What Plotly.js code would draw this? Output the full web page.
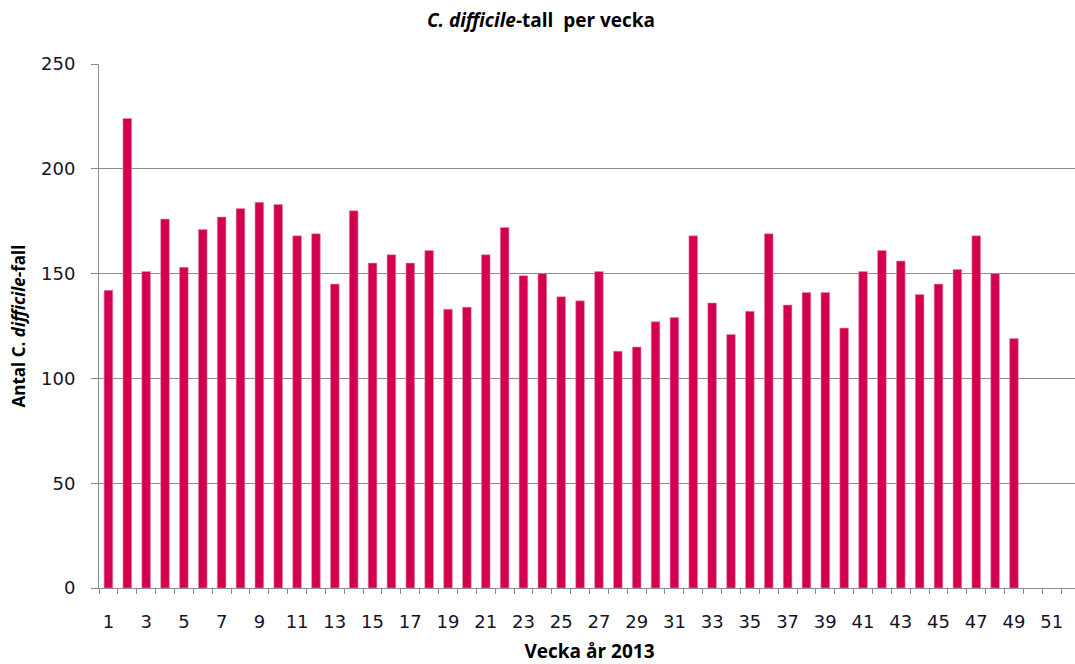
<!DOCTYPE html>
<html>
<head>
<meta charset="utf-8">
<script src="https://cdn.plot.ly/plotly-3.0.1.min.js"></script>
<style>
html, body { margin: 0; padding: 0; overflow: hidden; background: #fff; }
#chart { width: 1085px; height: 664px; }
</style>
</head>
<body>
<div id="chart"></div>
<script>
const weeks = [1,2,3,4,5,6,7,8,9,10,11,12,13,14,15,16,17,18,19,20,21,22,23,24,25,26,27,28,29,30,31,32,33,34,35,36,37,38,39,40,41,42,43,44,45,46,47,48,49];
const cases = [142,224,151,176,153,171,177,181,184,183,168,169,145,180,155,159,155,161,133,134,159,172,149,150,139,137,151,113,115,127,129,168,136,121,132,169,135,141,141,124,151,161,156,140,145,152,168,150,119];
const tickWeeks = [1,3,5,7,9,11,13,15,17,19,21,23,25,27,29,31,33,35,37,39,41,43,45,47,49,51];
const tickText = tickWeeks.map(String);

const trace = {
  type: 'bar',
  x: weeks,
  y: cases,
  marker: { color: '#D3004F', line: { color: '#E890AC', width: 0.6 } },
  hoverinfo: 'x+y'
};

const layout = {
  width: 1085,
  height: 664,
  margin: { l: 99, r: 5, t: 64, b: 76 },
  paper_bgcolor: '#ffffff',
  plot_bgcolor: '#ffffff',
  bargap: 0.54,
  showlegend: false,
  title: {
    text: '<i>C. difficile</i>-tall  per vecka',
    font: { family: 'Open Sans, DejaVu Sans, sans-serif', size: 19, color: '#000', weight: 'bold' },
    x: 541 / 1085, xref: 'container', xanchor: 'center',
    y: 1 - 20 / 664, yref: 'container', yanchor: 'middle'
  },
  xaxis: {
    type: 'linear',
    range: [0.5, 52.5],
    tickmode: 'array',
    tickvals: tickWeeks,
    ticktext: tickText,
    ticks: 'outside',
    ticklen: 17,
    tickcolor: 'rgba(0,0,0,0)',
    tickfont: { family: 'DejaVu Sans, Verdana, sans-serif', size: 18, color: '#141428' },
    minor: { tick0: 0.5, dtick: 1, ticks: 'outside', ticklen: 5, tickcolor: '#888', tickwidth: 1, showgrid: false },
    showline: true, linecolor: '#8c8c8c', linewidth: 1,
    showgrid: false, zeroline: false,
    fixedrange: true,
    title: {
      text: 'Vecka år 2013',
      font: { family: 'Open Sans, DejaVu Sans, sans-serif', size: 19, color: '#000', weight: 'bold' },
      standoff: 15
    }
  },
  yaxis: {
    range: [0, 250],
    dtick: 50,
    tick0: 0,
    ticks: 'outside',
    ticklen: 7,
    tickcolor: '#888',
    tickwidth: 1,
    ticklabelstandoff: 12,
    tickfont: { family: 'DejaVu Sans, Verdana, sans-serif', size: 18, color: '#141428' },
    showline: true, linecolor: '#8c8c8c', linewidth: 1,
    showgrid: true, gridcolor: '#8c8c8c', gridwidth: 1,
    zeroline: false,
    fixedrange: true,
    title: {
      text: 'Antal C. <i>difficile</i>-fall',
      font: { family: 'Open Sans, DejaVu Sans, sans-serif', size: 17, color: '#000', weight: 'bold' },
      standoff: 11
    }
  }
};

Plotly.newPlot('chart', [trace], layout, { displayModeBar: false, staticPlot: true });
</script>
</body>
</html>
